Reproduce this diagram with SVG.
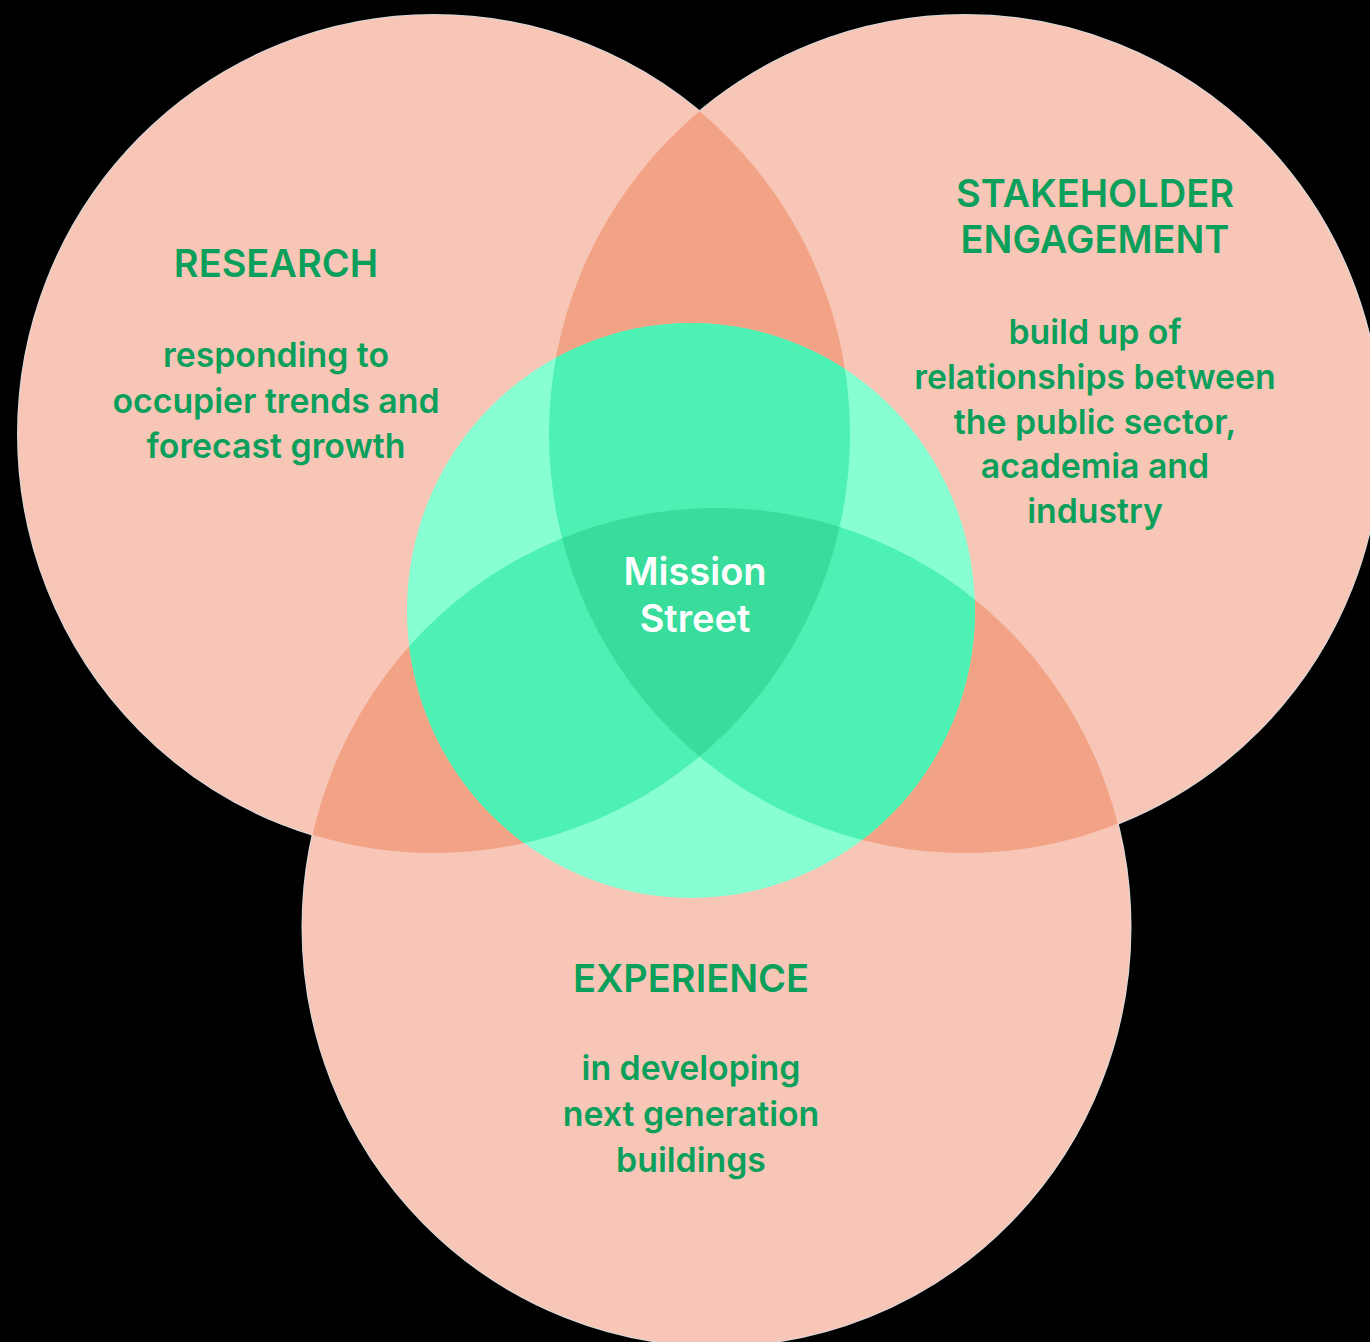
<svg xmlns="http://www.w3.org/2000/svg" width="1370" height="1342" viewBox="0 0 1370 1342">
<style>
.salmon{fill:#F8C6B6}
.salmon2{fill:#F2A285}
.g1{fill:#87FFD3}
.g2{fill:#4CF1B3}
.g3{fill:#38DC9B}
.edge{fill:none;stroke:#FFFFFF;stroke-width:2;stroke-opacity:0.85}
.head{font-family:Inter,"Liberation Sans",sans-serif;font-size:38px;font-weight:600;fill:#0B9F5C;text-anchor:middle}
.body{font-family:Inter,"Liberation Sans",sans-serif;font-size:33.8px;font-weight:600;fill:#0B9F5C;text-anchor:middle}
.center{font-family:Inter,"Liberation Sans",sans-serif;font-size:38px;font-weight:600;fill:#FFFFFF;text-anchor:middle}
</style>
<defs>
<ellipse id="e1" cx="434" cy="434" rx="416" ry="419"/>
<ellipse id="e2" cx="965" cy="434" rx="416" ry="419"/>
<ellipse id="e3" cx="716.5" cy="927" rx="414" ry="419"/>
<ellipse id="eg" cx="691" cy="610.5" rx="284" ry="287.5"/>
<clipPath id="c1"><use href="#e1"/></clipPath>
<clipPath id="c2"><use href="#e2"/></clipPath>
<clipPath id="c3"><use href="#e3"/></clipPath>
<clipPath id="cg"><use href="#eg"/></clipPath>
</defs>
<rect width="1370" height="1342" fill="#000000"/>
<g id="outlines">
<use href="#e1" class="edge"/>
<use href="#e2" class="edge"/>
<use href="#e3" class="edge"/>
</g>
<g id="research">
<use href="#e1" class="salmon"/>
</g>
<g id="stakeholder">
<use href="#e2" class="salmon"/>
</g>
<g id="experience">
<use href="#e3" class="salmon"/>
</g>
<g id="overlaps">
<g clip-path="url(#c1)"><use href="#e2" class="salmon2"/><use href="#e3" class="salmon2"/></g>
<g clip-path="url(#c2)"><use href="#e3" class="salmon2"/></g>
</g>
<g id="mission-street">
<use href="#eg" class="g1"/>
<g clip-path="url(#cg)">
<g clip-path="url(#c1)"><use href="#e2" class="g2"/><use href="#e3" class="g2"/></g>
<g clip-path="url(#c2)"><use href="#e3" class="g2"/></g>
<g clip-path="url(#c1)"><g clip-path="url(#c2)"><use href="#e3" class="g3"/></g></g>
</g>
<text class="center" x="695" y="585">Mission</text>
<text class="center" x="695" y="632">Street</text>
</g>
<g id="research-label">
<text class="head" x="276" y="277">RESEARCH</text>
<text class="body" x="276" y="367">responding to</text>
<text class="body" x="276" y="412.5">occupier trends and</text>
<text class="body" x="276" y="458">forecast growth</text>
</g>
<g id="stakeholder-label">
<text class="head" x="1095" y="207">STAKEHOLDER</text>
<text class="head" x="1095" y="253">ENGAGEMENT</text>
<text class="body" x="1095" y="344">build up of</text>
<text class="body" x="1095" y="389">relationships between</text>
<text class="body" x="1095" y="433.5">the public sector,</text>
<text class="body" x="1095" y="478">academia and</text>
<text class="body" x="1095" y="523">industry</text>
</g>
<g id="experience-label">
<text class="head" x="691" y="992">EXPERIENCE</text>
<text class="body" x="691" y="1080">in developing</text>
<text class="body" x="691" y="1126">next generation</text>
<text class="body" x="691" y="1172">buildings</text>
</g>
</svg>
